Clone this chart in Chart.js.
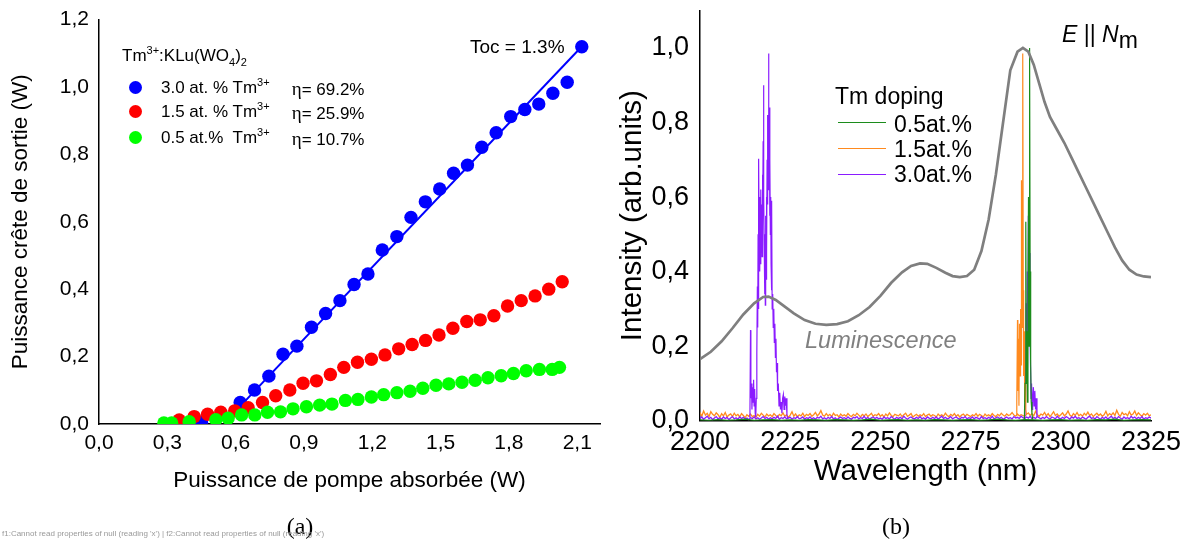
<!DOCTYPE html>
<html><head><meta charset="utf-8">
<script src="https://cdn.jsdelivr.net/npm/chart.js@4/dist/chart.umd.min.js"></script>
<style>
html,body{margin:0;padding:0;background:#fff;}
body{width:1191px;height:539px;position:relative;overflow:hidden;font-family:"Liberation Sans",Arial,sans-serif;color:#000;}
canvas{position:absolute;top:0;}
.t{position:absolute;white-space:nowrap;line-height:1;}
.sup{font-size:11px;position:relative;top:-7px;}
.sub{font-size:11px;position:relative;top:5px;}
.eta{font-family:"Liberation Serif",serif;font-size:19px;}
.dot{position:absolute;width:13px;height:13px;border-radius:50%;}
.ln{position:absolute;width:48px;height:1.6px;}
.cap{position:absolute;width:100px;text-align:center;font-family:"Liberation Serif",serif;font-size:24px;line-height:1;}
#dbg{position:absolute;left:2px;top:529px;font-size:8px;color:#999;white-space:nowrap;}
</style></head><body>
<canvas id="c1" width="612" height="539" style="left:0px"></canvas>
<canvas id="c2" width="591" height="539" style="left:600px"></canvas>

<div class="t" style="left:122px;top:46.7px;font-size:17px">Tm<span class="sup">3+</span>:KLu(WO<span class="sub">4</span>)<span class="sub">2</span></div>
<div class="dot" style="left:128.5px;top:80.8px;background:#0000ff"></div>
<div class="t" style="left:161px;top:79px;font-size:17px">3.0 at. % Tm<span class="sup">3+</span></div>
<div class="t" style="left:291.7px;top:79px;font-size:17px"><span class="eta">η</span>= 69.2%</div>
<div class="dot" style="left:128.5px;top:105.2px;background:#ff0000"></div>
<div class="t" style="left:161px;top:103.4px;font-size:17px">1.5 at. % Tm<span class="sup">3+</span></div>
<div class="t" style="left:291.7px;top:103.4px;font-size:17px"><span class="eta">η</span>= 25.9%</div>
<div class="dot" style="left:128.5px;top:130.8px;background:#00ff00"></div>
<div class="t" style="left:161px;top:129px;font-size:17px">0.5 at.%&nbsp; Tm<span class="sup">3+</span></div>
<div class="t" style="left:291.7px;top:129px;font-size:17px"><span class="eta">η</span>= 10.7%</div>
<div class="t" style="left:470px;top:37.4px;font-size:19px">Toc = 1.3%</div>

<div class="t" style="left:835px;top:85.4px;font-size:23px">Tm doping</div>
<div class="ln" style="left:838px;top:121.5px;background:#1c8c1c"></div>
<div class="t" style="left:894px;top:112.5px;font-size:23px">0.5at.%</div>
<div class="ln" style="left:838px;top:147.5px;background:#ff8a1e"></div>
<div class="t" style="left:894px;top:138px;font-size:23px">1.5at.%</div>
<div class="ln" style="left:838px;top:173.5px;background:#8a1cff"></div>
<div class="t" style="left:894px;top:163px;font-size:23px">3.0at.%</div>
<div class="t" style="left:805px;top:328.5px;font-size:23.5px;font-style:italic;color:#808080">Luminescence</div>
<div class="t" style="left:1062px;top:22.7px;font-size:23px"><i>E</i> || <i>N</i><span style="position:relative;top:6px">m</span></div>

<div class="cap" style="left:250px;top:514px">(a)</div>
<div class="cap" style="left:846px;top:514px">(b)</div>
<div id="dbg"></div>

<script>
// ---------- Panel (a) data ----------
const leftXTicks = [0, 0.3, 0.6, 0.9, 1.2, 1.5, 1.8, 2.1];
const leftXMinor = [0.15, 0.45, 0.75, 1.05, 1.35, 1.65, 1.95];
const leftXLabels = ['0,0', '0,3', '0,6', '0,9', '1,2', '1,5', '1,8', '2,1'];
const leftYTicks = [0, 0.2, 0.4, 0.6, 0.8, 1.0, 1.2];
const leftYMinor = [0.1, 0.3, 0.5, 0.7, 0.9, 1.1];
const leftYLabels = ['0,0', '0,2', '0,4', '0,6', '0,8', '1,0', '1,2'];

const blueX = [0.45, 0.62, 0.683, 0.746, 0.808, 0.869, 0.933, 0.995, 1.058, 1.12, 1.181, 1.244, 1.308, 1.37, 1.433, 1.496, 1.557, 1.618, 1.681, 1.744, 1.808, 1.87, 1.931, 1.993, 2.056, 2.12];
const blueY = [0.006, 0.064, 0.101, 0.142, 0.207, 0.231, 0.287, 0.328, 0.366, 0.414, 0.445, 0.516, 0.556, 0.613, 0.659, 0.697, 0.744, 0.768, 0.821, 0.864, 0.912, 0.933, 0.949, 0.981, 1.014, 1.119];
const redX = [0.352, 0.418, 0.477, 0.535, 0.596, 0.655, 0.718, 0.776, 0.838, 0.896, 0.955, 1.016, 1.075, 1.135, 1.196, 1.256, 1.316, 1.375, 1.434, 1.493, 1.554, 1.615, 1.674, 1.734, 1.794, 1.854, 1.915, 1.975, 2.034];
const redY = [0.012, 0.022, 0.029, 0.035, 0.039, 0.048, 0.064, 0.084, 0.101, 0.121, 0.128, 0.147, 0.168, 0.183, 0.192, 0.205, 0.223, 0.236, 0.248, 0.264, 0.284, 0.304, 0.309, 0.321, 0.35, 0.366, 0.38, 0.4, 0.422];
const greenX = [0.285, 0.319, 0.396, 0.513, 0.567, 0.626, 0.684, 0.74, 0.797, 0.852, 0.911, 0.969, 1.023, 1.082, 1.137, 1.196, 1.25, 1.308, 1.366, 1.422, 1.48, 1.536, 1.594, 1.652, 1.708, 1.766, 1.82, 1.876, 1.934, 1.99, 2.022];
const greenY = [0.003, 0.003, 0.007, 0.013, 0.017, 0.027, 0.027, 0.035, 0.036, 0.045, 0.051, 0.056, 0.059, 0.07, 0.073, 0.08, 0.087, 0.093, 0.097, 0.106, 0.115, 0.119, 0.124, 0.13, 0.137, 0.143, 0.15, 0.158, 0.162, 0.162, 0.168];
const fitX = [0.56, 2.12];
const fitY = [0.01, 1.12];

// ---------- Panel (b) data ----------
const rightXTicks = [2200, 2225, 2250, 2275, 2300, 2325];
const rightXMinor = [2212.5, 2237.5, 2262.5, 2287.5, 2312.5];
const rightXLabels = ['2200', '2225', '2250', '2275', '2300', '2325'];
const rightYTicks = [0, 0.2, 0.4, 0.6, 0.8, 1.0];
const rightYMinor = [0.1, 0.3, 0.5, 0.7, 0.9];
const rightYLabels = ['0,0', '0,2', '0,4', '0,6', '0,8', '1,0'];

const lumWl = [2200, 2203, 2206, 2209, 2212, 2215, 2217.5, 2219, 2221, 2223.5, 2226, 2229, 2232, 2235, 2238, 2241, 2244, 2247, 2250, 2253, 2256, 2258.5, 2261, 2263, 2265.5, 2268, 2270, 2272, 2274, 2276, 2278, 2280, 2282, 2284, 2286, 2288, 2289.5, 2291, 2292.5, 2294, 2295.5, 2297, 2299, 2301, 2303, 2305, 2307, 2309, 2311, 2313, 2315, 2317, 2319, 2321, 2323, 2325];
const lumI = [0.165, 0.185, 0.213, 0.248, 0.285, 0.315, 0.332, 0.333, 0.324, 0.306, 0.288, 0.27, 0.26, 0.257, 0.259, 0.267, 0.283, 0.305, 0.335, 0.37, 0.398, 0.415, 0.422, 0.421, 0.41, 0.397, 0.388, 0.385, 0.388, 0.405, 0.455, 0.54, 0.66, 0.8, 0.94, 0.99, 1.0, 0.99, 0.955, 0.905, 0.855, 0.815, 0.78, 0.745, 0.705, 0.665, 0.625, 0.585, 0.545, 0.505, 0.465, 0.43, 0.405, 0.392, 0.387, 0.385];

// lasing spectra: measured baseline noise (0.5 nm grid from 2200 nm) and the lasing lines
const baseStart = 2200;
const baseStep = 0.5;
const orangeBase = [
.022,.012,.026,.015,.02,.011,.024,.017,.013,.021,
.016,.009,.019,.013,.022,.01,.015,.018,.011,.02,
.013,.017,.01,.019,.014,.008,.016,.012,.018,.011,
.014,.009,.017,.012,.02,.015,.01,.018,.013,.016,
.011,.019,.014,.01,.017,.013,.021,.012,.016,.009,
.015,.024,.012,.018,.01,.016,.013,.02,.011,.017,
.014,.019,.012,.016,.022,.013,.018,.027,.015,.012,
.019,.013,.017,.011,.02,.014,.016,.01,.018,.013,
.016,.012,.019,.014,.011,.017,.013,.02,.015,.01,
.017,.013,.018,.011,.015,.02,.012,.016,.014,.019,
.012,.016,.01,.018,.013,.021,.014,.011,.017,.015,
.013,.018,.011,.016,.02,.012,.015,.019,.01,.014,
.017,.012,.016,.013,.019,.011,.015,.018,.012,.016,
.014,.01,.018,.013,.016,.012,.02,.014,.011,.017,
.013,.019,.012,.016,.01,.015,.018,.012,.017,.014,
.011,.016,.013,.019,.012,.017,.014,.01,.018,.013,
.016,.012,.019,.014,.011,.017,.013,.02,.015,.012,
.018,.014,.016,.022,.015,.012,.018,.013,.016,.014,
.012,.017,.021,.014,.019,.013,.025,.016,.012,.018,
.015,.022,.013,.019,.011,.017,.024,.014,.018,.012,
.016,.021,.013,.018,.026,.015,.011,.019,.014,.022,
.013,.017,.012,.02,.015,.023,.014,.018,.011,.016,
.02,.014,.018,.012,.016,.025,.013,.019,.015,.021,
.014,.028,.017,.012,.022,.016,.019,.013,.024,.015,
.018,.026,.014,.021,.016,.012,.019,.015,.02,.013,
.016];
const purpleBase = [
.006,.01,.004,.008,.012,.005,.009,.003,.007,.011,
.005,.008,.004,.01,.006,.009,.003,.007,.011,.005,
.008,.004,.01,.006,.009,.005,.007,.003,.008,.006,
.01,.005,.008,.004,.007,.011,.006,.009,.004,.008,
.005,.009,.006,.012,.004,.008,.006,.01,.005,.007,
.009,.004,.008,.006,.011,.005,.007,.01,.004,.008,
.006,.01,.005,.008,.004,.009,.007,.012,.005,.008,
.004,.009,.006,.011,.005,.008,.003,.007,.01,.006,
.008,.005,.01,.006,.004,.009,.007,.011,.005,.008,
.006,.012,.005,.009,.004,.008,.01,.006,.009,.005,
.007,.004,.01,.006,.008,.005,.011,.007,.004,.009,
.006,.009,.005,.012,.007,.004,.008,.01,.006,.005,
.009,.006,.011,.005,.008,.004,.01,.007,.005,.009,
.006,.01,.004,.008,.012,.006,.009,.005,.007,.011,
.005,.008,.01,.006,.004,.009,.007,.011,.005,.008,
.006,.01,.005,.009,.007,.004,.011,.006,.008,.005,
.009,.006,.012,.005,.008,.01,.006,.009,.004,.007,
.01,.006,.008,.005,.011,.007,.009,.006,.012,.008,
.006,.01,.007,.012,.005,.009,.006,.011,.008,.005,
.009,.006,.011,.007,.004,.01,.008,.005,.012,.007,
.005,.009,.006,.011,.008,.004,.01,.007,.012,.006,
.008,.005,.01,.007,.004,.009,.012,.006,.008,.005,
.011,.007,.004,.009,.006,.01,.005,.008,.012,.006,
.009,.005,.011,.007,.004,.01,.006,.008,.005,.012,
.007,.01,.005,.009,.006,.011,.004,.008,.006,.01,
.007];
const greenBaseStep = 2.5;
const greenBase = [.002,.001,.003,.001,.002,.004,.001,.002,.003,.001,.002,.001,.003,.002,.001,.003,.002,.001,.002,.004,.001,.002,.003,.001,.002,.001,.003,.002,.001,.002,.003,.001,.002,.004,.002,.001,.003,.002,.001,.002,.003,.001,.002,.001,.003,.002,.004,.001,.002,.003,.002];

const purpleLWl = [2213.6, 2213.85, 2214.0, 2214.1, 2214.25, 2214.4, 2214.55, 2214.7, 2214.85, 2215.0, 2215.15, 2215.3, 2215.45, 2215.6, 2215.75, 2215.9, 2216.0, 2216.1, 2216.2, 2216.3, 2216.4, 2216.5, 2216.6, 2216.7, 2216.8, 2216.9, 2217.0, 2217.1, 2217.2, 2217.3, 2217.4, 2217.5, 2217.6, 2217.7, 2217.8, 2217.9, 2218.0, 2218.1, 2218.2, 2218.3, 2218.4, 2218.5, 2218.6, 2218.7, 2218.8, 2218.9, 2219.0, 2219.1, 2219.2, 2219.3, 2219.4, 2219.5, 2219.6, 2219.7, 2219.8, 2219.9, 2220.0, 2220.15, 2220.3, 2220.45, 2220.6, 2220.75, 2220.9, 2221.05, 2221.2, 2221.35, 2221.5, 2221.7, 2221.9, 2222.1, 2222.3, 2222.5, 2222.7, 2222.9, 2223.1, 2223.3, 2223.5, 2223.7, 2223.9, 2224.1, 2224.3];
const purpleLI = [0.01, 0.03, 0.243, 0.06, 0.1, 0.03, 0.09, 0.05, 0.11, 0.04, 0.085, 0.02, 0.01, 0.06, 0.18, 0.36, 0.25, 0.5, 0.3, 0.703, 0.48, 0.6, 0.4, 0.55, 0.42, 0.62, 0.47, 0.58, 0.44, 0.66, 0.52, 0.75, 0.9, 0.6, 0.47, 0.34, 0.5, 0.31, 0.55, 0.38, 0.6, 0.45, 0.7, 0.58, 0.82, 0.62, 0.985, 0.7, 0.84, 0.55, 0.7, 0.5, 0.6, 0.42, 0.35, 0.59, 0.3, 0.34, 0.25, 0.3, 0.21, 0.26, 0.17, 0.22, 0.13, 0.155, 0.08, 0.1, 0.04, 0.075, 0.03, 0.05, 0.02, 0.06, 0.07, 0.03, 0.065, 0.04, 0.06, 0.015, 0.006];
const orangeRWl = [2287.6, 2287.8, 2288.0, 2288.1, 2288.25, 2288.4, 2288.55, 2288.7, 2288.85, 2289.0, 2289.1, 2289.25, 2289.4, 2289.5, 2289.6, 2289.7, 2289.85, 2290.0, 2290.15, 2290.3, 2290.5];
const orangeRI = [0.015, 0.05, 0.27, 0.08, 0.22, 0.04, 0.26, 0.12, 0.3, 0.15, 0.645, 0.25, 0.5, 0.985, 0.35, 0.12, 0.24, 0.05, 0.1, 0.03, 0.015];
const greenRWl = [2289.9, 2290.1, 2290.3, 2290.45, 2290.6, 2290.75, 2290.9, 2291.05, 2291.2, 2291.35, 2291.5, 2291.65, 2291.8, 2292.0, 2292.2];
const greenRI = [0.002, 0.1, 0.534, 0.1, 0.24, 0.05, 0.3, 0.6, 0.2, 1.0, 0.4, 0.15, 0.05, 0.02, 0.003];
const purpleRWl = [2290.0, 2290.2, 2290.4, 2290.55, 2290.7, 2290.85, 2291.0, 2291.15, 2291.3, 2291.45, 2291.6, 2291.75, 2291.9, 2292.05, 2292.2, 2292.4, 2292.6, 2292.8, 2293.0, 2293.2, 2293.4];
const purpleRI = [0.005, 0.05, 0.315, 0.1, 0.4, 0.2, 0.55, 0.3, 0.45, 0.25, 0.155, 0.06, 0.1, 0.03, 0.055, 0.09, 0.04, 0.08, 0.03, 0.06, 0.01];

// ---------- helpers ----------
const pts = (xs, ys) => xs.map((x, i) => ({x: x, y: ys[i]}));
const onGrid = (start, step, ys) => ys.map((y, i) => ({x: start + i * step, y: y}));
const FONT = "'Liberation Sans', Arial, sans-serif";
const dbgMsg = [];
const FRAME = '#000000';

function scalesFor(o) {
  return {
    x: {
      type: 'linear', position: 'bottom', min: o.xmin, max: o.xmax,
      afterBuildTicks: s => { s.ticks = o.xTicks.map(v => ({value: v})); },
      ticks: {callback: (v, i) => o.xLabels[i], padding: o.xPad, maxRotation: 0, autoSkip: false, font: {size: o.tickSize, family: FONT}, color: '#000'},
      grid: {display: false, drawTicks: false},
      border: {display: true, color: FRAME, width: 1.5},
      title: {display: true, text: o.xTitle, font: {size: o.titleSize, family: FONT}, color: '#000', padding: {top: 0, bottom: o.xTitlePad}},
      afterFit: s => { s.height = o.xHeight; s.paddingLeft = 0; s.paddingRight = 0; }
    },
    y: {
      type: 'linear', position: 'left', min: o.ymin, max: o.ymax,
      afterBuildTicks: s => { s.ticks = o.yTicks.map(v => ({value: v})); },
      ticks: {callback: (v, i) => o.yLabels[i], padding: o.yPad, autoSkip: false, font: {size: o.tickSize, family: FONT}, color: '#000'},
      grid: {display: false, drawTicks: false},
      border: {display: true, color: FRAME, width: 1.5},
      title: {display: true, text: o.yTitle, font: {size: o.titleSize, family: FONT}, color: '#000', padding: {top: o.yTitlePad, bottom: 0}},
      afterFit: s => { s.width = o.yWidth; s.paddingTop = 0; s.paddingBottom = 0; }
    }
  };
}

// frame box + inward major/minor ticks as a library-drawn line dataset (segments split by nulls),
// positions derived from the chart's own scales after the first layout
function addFrameDataset(chart, xMinor, yMinor) {
  const sx = chart.scales.x, sy = chart.scales.y, a = chart.chartArea;
  const x0 = sx.min, x1 = sx.max, y0 = sy.min, y1 = sy.max;
  const dyPerPx = (y1 - y0) / (a.bottom - a.top);
  const dxPerPx = (x1 - x0) / (a.right - a.left);
  const seg = [{x: x0, y: y0}, {x: x1, y: y0}, {x: x1, y: y1}, {x: x0, y: y1}, {x: x0, y: y0}, null];
  const xt = sx.ticks.map(t => [t.value, 8]).concat(xMinor.map(v => [v, 4.5]));
  xt.forEach(e => {
    const l = e[1] * dyPerPx;
    seg.push({x: e[0], y: y0}, {x: e[0], y: y0 + l}, null, {x: e[0], y: y1}, {x: e[0], y: y1 - l}, null);
  });
  const yt = sy.ticks.map(t => [t.value, 8]).concat(yMinor.map(v => [v, 4.5]));
  yt.forEach(e => {
    const l = e[1] * dxPerPx;
    seg.push({x: x0, y: e[0]}, {x: x0 + l, y: e[0]}, null, {x: x1, y: e[0]}, {x: x1 - l, y: e[0]}, null);
  });
  chart.data.datasets.unshift({data: seg, showLine: true, spanGaps: false, borderColor: FRAME, borderWidth: 1.5, pointRadius: 0, clip: false, tension: 0});
  chart.update('none');
}

// ---------- Panel (a) ----------  (first dataset is drawn on top)
const dot = (data, color) => ({data: data, backgroundColor: color, borderWidth: 0, pointRadius: 6.7, pointHoverRadius: 6.7, clip: 0});
let ch1 = null, ch2 = null;
try {
ch1 = new Chart(document.getElementById('c1'), {
  type: 'scatter',
  data: {datasets: [
    dot(pts(greenX, greenY), '#00ff00'),
    dot(pts(redX, redY), '#ff0000'),
    dot(pts(blueX, blueY), '#0000ff'),
    {data: pts(fitX, fitY), showLine: true, borderColor: '#0000ff', borderWidth: 2, pointRadius: 0, clip: 0}
  ]},
  options: {
    responsive: false, animation: false, devicePixelRatio: 1,
    layout: {padding: {top: 19.5, right: 12, bottom: 0, left: 0}},
    plugins: {legend: {display: false}, tooltip: {enabled: false}},
    scales: scalesFor({
      xmin: 0, xmax: 2.2, xTicks: leftXTicks, xLabels: leftXLabels,
      ymin: 0, ymax: 1.2, yTicks: leftYTicks, yLabels: leftYLabels,
      tickSize: 21, titleSize: 22.5, xPad: 7, yPad: 10,
      xTitle: 'Puissance de pompe absorbée (W)', xTitlePad: 44.5, xHeight: 115,
      yTitle: 'Puissance crête de sortie (W)', yTitlePad: 7.2, yWidth: 99
    })
  }
});
} catch (e) { dbgMsg.push('c1:' + e.message); }

// ---------- Panel (b) ----------
const lineDs = (data, color, w) => ({data: data, showLine: true, borderColor: color, borderWidth: w, pointRadius: 0, clip: 0});
try {
ch2 = new Chart(document.getElementById('c2'), {
  type: 'scatter',
  data: {datasets: [
    lineDs(pts(lumWl, lumI), '#7f7f7f', 2.7),
    lineDs(pts(greenRWl, greenRI), '#1c8c1c', 1.2),
    lineDs(pts(orangeRWl, orangeRI), '#ff8a1e', 1.2),
    lineDs(pts(purpleRWl, purpleRI), '#8a1cff', 1.2),
    lineDs(pts(purpleLWl, purpleLI), '#8a1cff', 1.2),
    lineDs(onGrid(baseStart, greenBaseStep, greenBase), '#1c8c1c', 1.2),
    lineDs(onGrid(baseStart, baseStep, purpleBase), '#8a1cff', 1.3),
    lineDs(onGrid(baseStart, baseStep, orangeBase), '#ff8a1e', 1.3)
  ]},
  options: {
    responsive: false, animation: false, devicePixelRatio: 1,
    layout: {padding: {top: 10.7, right: 40, bottom: 0, left: 0}},
    plugins: {legend: {display: false}, tooltip: {enabled: false}},
    scales: scalesFor({
      xmin: 2200, xmax: 2325, xTicks: rightXTicks, xLabels: rightXLabels,
      ymin: 0, ymax: 1.1, yTicks: rightYTicks, yLabels: rightYLabels,
      tickSize: 27, titleSize: 29.5, xPad: 5.3, yPad: 11,
      xTitle: 'Wavelength (nm)', xTitlePad: 49.3, xHeight: 118.3,
      yTitle: 'Intensity (arb.units)', yTitlePad: 15.3, yWidth: 100
    })
  }
});
} catch (e) { dbgMsg.push('c2:' + e.message); }

try { if (ch1) addFrameDataset(ch1, leftXMinor, leftYMinor); } catch (e) { dbgMsg.push('f1:' + e.message); }
try { if (ch2) addFrameDataset(ch2, rightXMinor, rightYMinor); } catch (e) { dbgMsg.push('f2:' + e.message); }
if (dbgMsg.length) document.getElementById('dbg').textContent = dbgMsg.join(' | ');
</script>
</body></html>
